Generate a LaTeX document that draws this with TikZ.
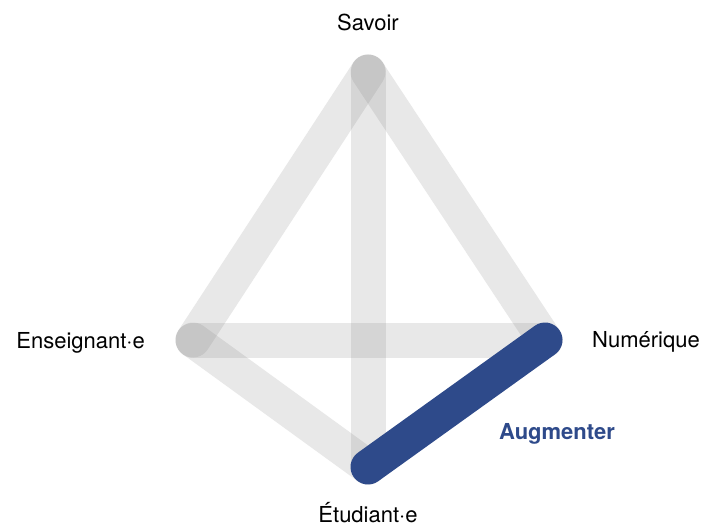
\documentclass[tikz,border=0pt]{standalone}
\usepackage{fontspec}
\setmainfont{TeX Gyre Heros}
\definecolor{barblue}{RGB}{46,74,138}
\tikzset{
  bar/.style={line width=35pt, line cap=round, draw=black!50, draw opacity=0.18},
  barhi/.style={line width=35pt, line cap=round, draw=barblue},
  pole/.style={font=\fontsize{22}{26}\selectfont, inner sep=0pt}
}
\begin{document}
\begin{tikzpicture}[x=1pt,y=-1pt]
	% Frame of the page
	\useasboundingbox (0,0) rectangle (701,529);
	
	% Vertices of the tetrahedron
	\coordinate (sav) at (368,72);
	\coordinate (ens) at (193,340);
	\coordinate (num) at (545,340);
	\coordinate (etu) at (368,467);
	
	% Grey edges
	\draw[bar] (sav) -- (ens);
	\draw[bar] (sav) -- (num);
	\draw[bar] (sav) -- (etu);
	\draw[bar] (ens) -- (num);
	\draw[bar] (ens) -- (etu);
	
	% Highlighted edge
	\draw[barhi] (num) -- (etu);
	
	% Labels
	\node[pole] (lsav) at (368,22) {Savoir};
	\node[pole, anchor=east] (lens) at (145,343) {Enseignant·e};
	\node[pole, anchor=west] (lnum) at (592,342) {Numérique};
	\node[pole] (letu) at (368,513) {Étudiant·e};
	\node[pole, font=\fontsize{22}{26}\selectfont\bfseries, text=barblue] (laug) at (557,434) {Augmenter};
\end{tikzpicture}
\end{document}
